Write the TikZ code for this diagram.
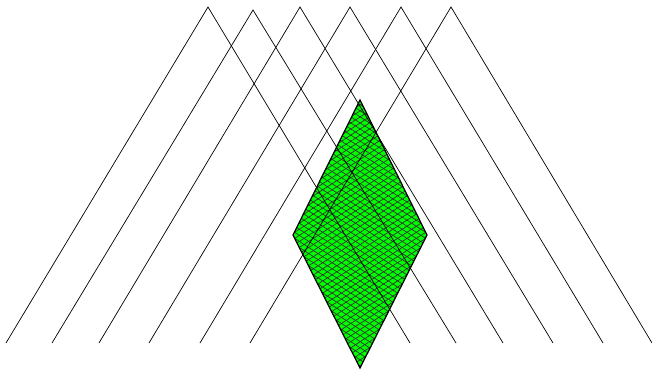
\documentclass[tikz,border=0pt]{standalone}
\usepackage{tikz}
\usetikzlibrary{patterns.meta}
\definecolor{leafgreen}{HTML}{00FF00}
\tikzset{
  vline/.style={draw=black,line width=0.4pt},
  rhombfill/.style={fill=leafgreen},
  rhombhatch/.style={pattern={Lines[angle=#1,distance=2.9pt,line width=0.4pt]},pattern color=black!80},
  rhombedge/.style={draw=black,line width=0.7pt,line join=miter}
}
\begin{document}
\begin{tikzpicture}[x=0.02cm,y=-0.02cm]
  \useasboundingbox (0,0) rectangle (652,369);
  % the rhombus
  \coordinate (top) at (360,100);
  \coordinate (lft) at (293,235);
  \coordinate (rgt) at (427,235);
  \coordinate (bot) at (360,368);
  \path[rhombfill] (top) -- (rgt) -- (bot) -- (lft) -- cycle;
  \path[rhombhatch=33] (top) -- (rgt) -- (bot) -- (lft) -- cycle;
  \path[rhombhatch=-33] (top) -- (rgt) -- (bot) -- (lft) -- cycle;
  % the roofs
  \foreach \l/\p/\h/\r in {6/208/7/410, 52/253/10/456, 99/300/7/503,
                           149/350/7/553, 200/401/7/603, 250/451/7/652}{
    \coordinate (a) at (\l,343);
    \coordinate (b) at (\p,\h);
    \coordinate (c) at (\r,343);
    \draw[vline] (a) -- (b) -- (c);
  }
  \draw[rhombedge] (top) -- (rgt) -- (bot) -- (lft) -- cycle;
\end{tikzpicture}
\end{document}
